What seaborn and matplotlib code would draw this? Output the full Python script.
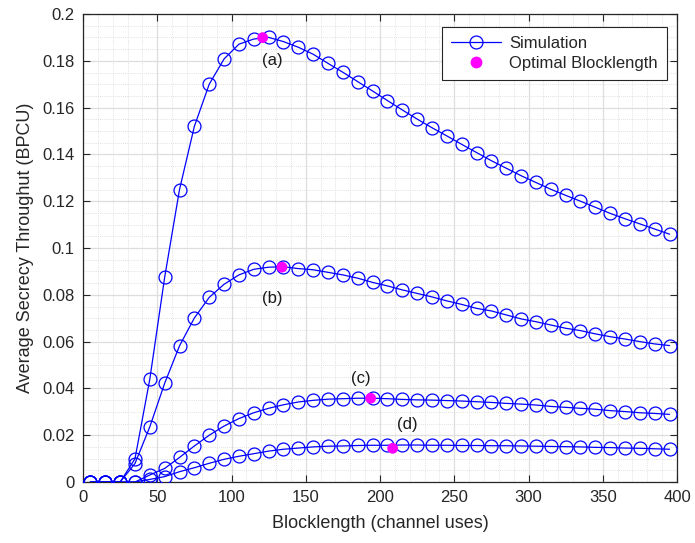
import numpy as np
import pandas as pd
import matplotlib
matplotlib.use("Agg")
import matplotlib.pyplot as plt
from matplotlib.ticker import MultipleLocator, FuncFormatter
from matplotlib.lines import Line2D
import seaborn as sns

blocklength = [5, 15, 25, 35, 45, 55, 65, 75, 85, 95, 105, 115, 125, 135, 145, 155,
               165, 175, 185, 195, 205, 215, 225, 235, 245, 255, 265, 275, 285, 295,
               305, 315, 325, 335, 345, 355, 365, 375, 385, 395]

curve_a = [0, 0, 0, 0.0099, 0.044, 0.0875, 0.125, 0.152, 0.170, 0.1808, 0.1871, 0.1893,
           0.1900, 0.1882, 0.1858, 0.1828, 0.1789, 0.1751, 0.1711, 0.1671, 0.1630, 0.1590,
           0.1551, 0.1514, 0.1479, 0.1443, 0.1408, 0.1373, 0.1341, 0.1309, 0.1280, 0.1251,
           0.1225, 0.1200, 0.1174, 0.1148, 0.1125, 0.1103, 0.1081, 0.1059]
curve_b = [0, 0, 0, 0.0079, 0.0236, 0.0422, 0.0582, 0.0701, 0.0789, 0.0845, 0.0885, 0.0909,
           0.0918, 0.0920, 0.0912, 0.0907, 0.0896, 0.0885, 0.0871, 0.0853, 0.0838, 0.0821,
           0.0806, 0.0791, 0.0774, 0.0759, 0.0742, 0.0731, 0.0714, 0.0697, 0.0685, 0.0671,
           0.0657, 0.0647, 0.0633, 0.0621, 0.0611, 0.0600, 0.0590, 0.0583]
curve_c = [0, 0, 0, 0, 0.0030, 0.0058, 0.0105, 0.0154, 0.0200, 0.0239, 0.0271, 0.0296,
           0.0315, 0.0330, 0.0342, 0.0349, 0.0354, 0.0356, 0.0358, 0.0358, 0.0356, 0.0353,
           0.0351, 0.0350, 0.0348, 0.0346, 0.0343, 0.0340, 0.0336, 0.0333, 0.0329, 0.0323,
           0.0319, 0.0315, 0.0311, 0.0305, 0.0301, 0.0296, 0.0293, 0.0289]
curve_d = [0, 0, 0, 0, 0.0011, 0.0023, 0.0044, 0.0061, 0.0080, 0.0097, 0.0110, 0.0121,
           0.0132, 0.0140, 0.0145, 0.0150, 0.0153, 0.0154, 0.0156, 0.0157, 0.0157, 0.0158,
           0.0158, 0.0157, 0.0157, 0.0156, 0.0156, 0.0155, 0.0155, 0.0154, 0.0153, 0.0152,
           0.0151, 0.0150, 0.0148, 0.0147, 0.0145, 0.0144, 0.0142, 0.0140]

opt_x = [121, 134, 193.7, 208.5]
opt_y = [0.1899, 0.0918, 0.0358, 0.0144]

curve_labels = ["(a)", "(b)", "(c)", "(d)"]
label_x = [127.3, 127.3, 187.2, 218.2]
label_y = [0.180, 0.0786, 0.0444, 0.0244]

x_ticks = [0, 50, 100, 150, 200, 250, 300, 350, 400]
y_ticks = [0, 0.02, 0.04, 0.06, 0.08, 0.1, 0.12, 0.14, 0.16, 0.18, 0.2]

sns.set_style("white")
plt.rcParams['font.family'] = ['Liberation Sans', 'DejaVu Sans']

df = pd.DataFrame({
    "Blocklength": blocklength * 4,
    "Throughput": curve_a + curve_b + curve_c + curve_d,
    "Curve": sum([[c] * len(blocklength) for c in curve_labels], []),
})
opt_df = pd.DataFrame({"x": opt_x, "y": opt_y})

fig = plt.figure(figsize=(6.95, 5.43), dpi=100)
ax = fig.add_axes([83 / 695, 1 - 482 / 543, (677 - 83) / 695, (482 - 14) / 543])

sns.lineplot(data=df, x="Blocklength", y="Throughput", hue="Curve",
             palette=["#0000ff"] * 4, marker="o", markersize=9.3,
             markerfacecolor="none", markeredgecolor="#0000ff", markeredgewidth=0.9,
             linewidth=0.9, legend=False, ax=ax, zorder=3)
sns.scatterplot(data=opt_df, x="x", y="y", color="#ff00ff", s=60, edgecolor="none",
                legend=False, ax=ax, zorder=4)

for t, lx, ly in zip(curve_labels, label_x, label_y):
    ax.text(lx, ly, t, ha="center", va="center", fontsize=12, color="#1a1a1a")

ax.set_xlim(0, 400)
ax.set_ylim(0, 0.2)
ax.set_xticks(x_ticks)
ax.set_yticks(y_ticks)
ax.xaxis.set_minor_locator(MultipleLocator(10))
ax.yaxis.set_minor_locator(MultipleLocator(0.005))
ax.yaxis.set_major_formatter(FuncFormatter(lambda v, p: f"{v:g}"))
ax.xaxis.set_major_formatter(FuncFormatter(lambda v, p: f"{v:g}"))

ax.grid(True, which="major", color="#dedede", linewidth=0.9, linestyle="-")
ax.grid(True, which="minor", color="#d8d8d8", linewidth=0.6, linestyle=(0, (1, 1.5)))
ax.set_axisbelow(True)

ax.tick_params(which="major", direction="in", length=5, width=0.8, color="#262626",
               labelsize=12, labelcolor="#262626", top=True, right=True,
               bottom=True, left=True, pad=6)
ax.tick_params(which="minor", length=0, top=False, right=False)
for s in ax.spines.values():
    s.set_color("#262626")
    s.set_linewidth(0.9)
    s.set_visible(True)

ax.set_xlabel("Blocklength (channel uses)", fontsize=13, color="#262626", labelpad=7)
ax.set_ylabel("Average Secrecy Throughut (BPCU)", fontsize=13, color="#262626", labelpad=6)

handles = [
    Line2D([0], [0], color="#0000ff", linewidth=0.9, marker="o", markersize=9.3,
           markerfacecolor="none", markeredgecolor="#0000ff", markeredgewidth=0.9),
    Line2D([0], [0], color="none", marker="o", markersize=8.5,
           markerfacecolor="#ff00ff", markeredgecolor="none"),
]
leg = ax.legend(handles, ["Simulation", "Optimal Blocklength"], loc="upper right",
                bbox_to_anchor=(0.983, 0.972), fontsize=12, frameon=True, fancybox=False,
                edgecolor="#262626", framealpha=1, handlelength=3.0, borderpad=0.55,
                labelspacing=0.3, handletextpad=0.5, borderaxespad=0.0)
leg.get_frame().set_linewidth(0.8)

fig.savefig("out.png", dpi=100)
